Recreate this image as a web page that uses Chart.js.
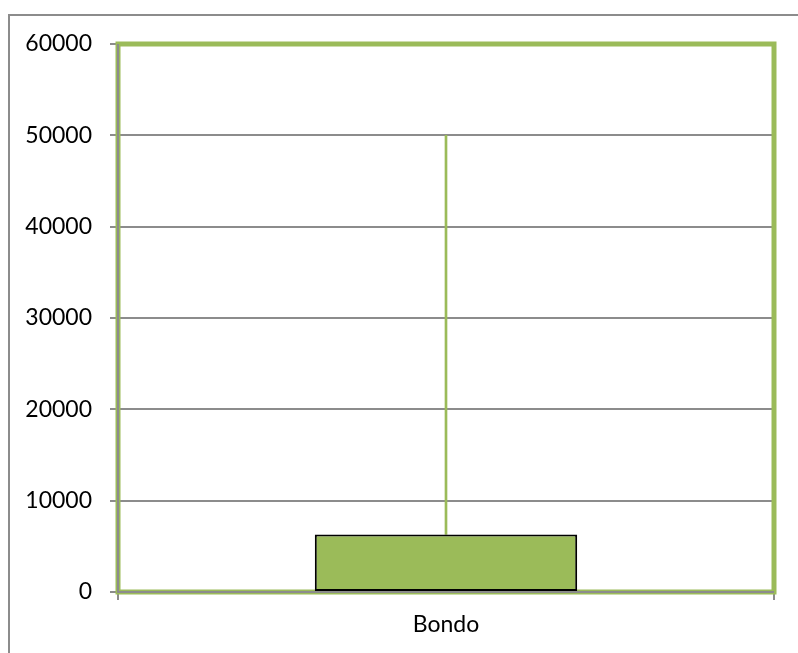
<!DOCTYPE html>
<html>

<head>
    <title>Bondo</title>
    <script src="https://cdn.jsdelivr.net/npm/chart.js"></script>
    <style>
        body {
            margin: 0;
            background: #fff;
            width: 798px;
            height: 653px;
            overflow: hidden;
            position: relative;
        }

        .frame {
            position: absolute;
            left: 8px;
            top: 14px;
            width: 820px;
            height: 700px;
            border-left: 2px solid #8c8c8c;
            border-top: 2px solid #8c8c8c;
        }

        #box-chart {
            position: absolute;
            left: 0;
            top: 0;
        }
    </style>
</head>

<body>
    <div class="frame"></div>
    <canvas id="box-chart" width="798" height="653"></canvas>

    <script>
        // Categories and values
        const categories = ['Bondo'];
        const boxLow = [0];
        const boxHigh = [6300];
        const whiskerHigh = [50000];
        const yTicks = [0, 10000, 20000, 30000, 40000, 50000, 60000];

        const green = '#9BBB59';
        const gray = '#8c8c8c';

        // green frame around the plot, with gray axis lines on top of it
        const plotFrame = {
            id: 'plotFrame',
            beforeDatasetsDraw(chart) {
                const a = chart.chartArea;
                const ctx = chart.ctx;
                ctx.save();
                ctx.strokeStyle = green;
                ctx.lineWidth = 5;
                ctx.strokeRect(a.left, a.top, a.right - a.left, a.bottom - a.top);
                ctx.strokeStyle = gray;
                ctx.lineWidth = 2;
                ctx.beginPath();
                ctx.moveTo(a.left, a.top);
                ctx.lineTo(a.left, a.bottom);
                ctx.lineTo(a.right, a.bottom);
                ctx.stroke();
                ctx.restore();
            }
        };

        const ctx = document.getElementById('box-chart').getContext('2d');
        new Chart(ctx, {
            type: 'bar',
            data: {
                labels: categories,
                datasets: [{
                    label: 'whisker',
                    data: boxHigh.map((v, i) => [v, whiskerHigh[i]]),
                    backgroundColor: green,
                    borderWidth: 0,
                    barThickness: 2,
                    grouped: false,
                    order: 2
                }, {
                    label: 'box',
                    data: boxLow.map((v, i) => [v, boxHigh[i]]),
                    backgroundColor: green,
                    borderColor: '#000',
                    borderWidth: 2,
                    borderSkipped: false,
                    barPercentage: 0.4,
                    categoryPercentage: 1,
                    grouped: false,
                    order: 1
                }]
            },
            options: {
                responsive: false,
                animation: false,
                layout: {
                    padding: { top: 44, right: 24, left: 0, bottom: 0 }
                },
                plugins: {
                    legend: { display: false },
                    tooltip: { enabled: false }
                },
                scales: {
                    x: {
                        offset: true,
                        grid: {
                            offset: true,
                            drawOnChartArea: false,
                            color: gray,
                            lineWidth: 2,
                            tickLength: 8
                        },
                        border: { display: false },
                        ticks: {
                            color: '#000',
                            padding: 11,
                            font: { family: 'Lato', size: 23 }
                        },
                        afterFit(scale) { scale.height = 61; }
                    },
                    y: {
                        min: 0,
                        max: 60000,
                        afterBuildTicks(scale) {
                            scale.ticks = yTicks.map(v => ({ value: v }));
                        },
                        grid: {
                            color: gray,
                            lineWidth: 2,
                            tickLength: 8
                        },
                        border: { display: false },
                        ticks: {
                            color: '#000',
                            padding: 18,
                            font: { family: 'Lato', size: 23 },
                            callback: v => String(v)
                        },
                        afterFit(scale) { scale.width = 118; }
                    }
                }
            },
            plugins: [plotFrame]
        });
    </script>
</body>

</html>
